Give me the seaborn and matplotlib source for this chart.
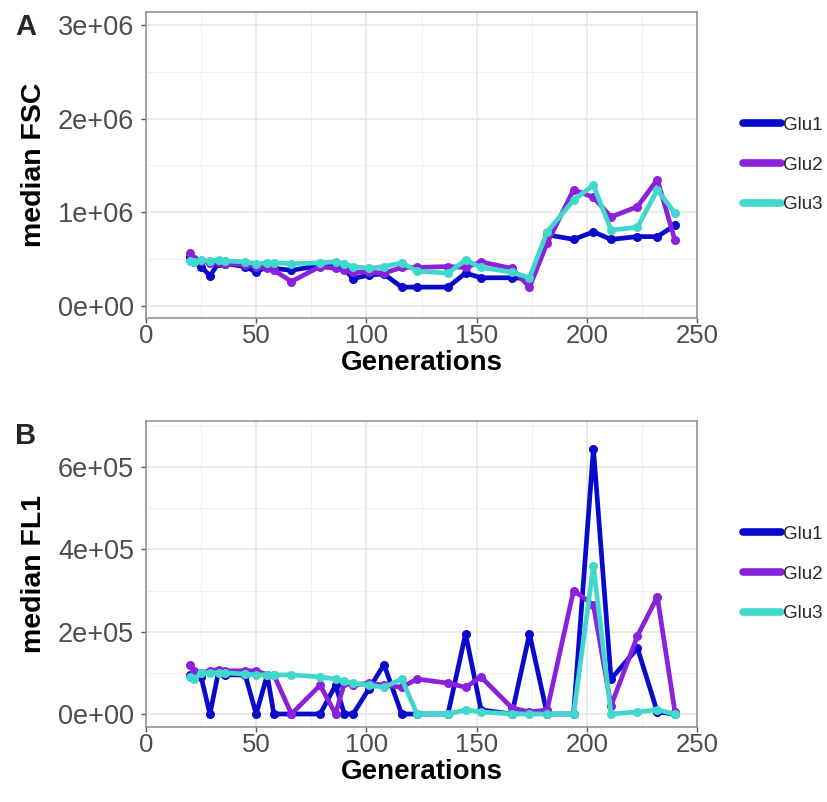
import numpy as np
import pandas as pd
import matplotlib
matplotlib.use("Agg")
import matplotlib.pyplot as plt
import seaborn as sns
from matplotlib.lines import Line2D
from matplotlib.ticker import MultipleLocator, FuncFormatter

generations = [20, 22, 25, 29, 33, 36, 45, 50, 55, 58, 66, 79, 86, 90, 94, 101,
               108, 116, 123, 137, 145, 152, 166, 174, 182, 194, 203, 211, 223, 232, 240]
samples = ["Glu1", "Glu2", "Glu3"]

fsc_glu1 = [520e3, 470e3, 420e3, 320e3, 460e3, 450e3, 420e3, 360e3, 420e3, 400e3, 380e3,
            430e3, 420e3, 390e3, 290e3, 330e3, 340e3, 200e3, 200e3, 200e3, 350e3, 300e3,
            300e3, 290e3, 760e3, 710e3, 790e3, 710e3, 740e3, 740e3, 860e3]
fsc_glu2 = [560e3, 500e3, 480e3, 460e3, 470e3, 450e3, 440e3, 420e3, 400e3, 380e3, 260e3,
            420e3, 400e3, 380e3, 360e3, 360e3, 350e3, 410e3, 410e3, 420e3, 410e3, 470e3,
            400e3, 200e3, 670e3, 1240e3, 1160e3, 950e3, 1060e3, 1350e3, 700e3]
fsc_glu3 = [480e3, 470e3, 490e3, 480e3, 490e3, 480e3, 470e3, 450e3, 460e3, 460e3, 450e3,
            460e3, 470e3, 450e3, 420e3, 400e3, 420e3, 460e3, 370e3, 350e3, 490e3, 410e3,
            360e3, 300e3, 790e3, 1130e3, 1290e3, 810e3, 840e3, 1240e3, 990e3]

fl1_glu1 = [95e3, 90e3, 90e3, 0, 105e3, 95e3, 95e3, 0, 95e3, 0, 0,
            0, 70e3, 0, 0, 60e3, 120e3, 0, 0, 0, 195e3, 10e3,
            0, 195e3, 0, 0, 645e3, 85e3, 160e3, 5e3, 0]
fl1_glu2 = [120e3, 105e3, 100e3, 105e3, 108e3, 105e3, 105e3, 105e3, 95e3, 95e3, 0,
            70e3, 0, 75e3, 70e3, 75e3, 70e3, 65e3, 85e3, 75e3, 65e3, 90e3,
            15e3, 5e3, 10e3, 300e3, 265e3, 20e3, 190e3, 285e3, 5e3]
fl1_glu3 = [90e3, 85e3, 100e3, 100e3, 100e3, 100e3, 97e3, 95e3, 95e3, 95e3, 95e3,
            90e3, 85e3, 80e3, 75e3, 70e3, 65e3, 85e3, 0, 0, 10e3, 5e3,
            0, 0, 0, 0, 360e3, 0, 5e3, 10e3, 0]

colors = {"Glu1": "#0A0ACD", "Glu2": "#8A22DC", "Glu3": "#40D8CC"}

rows = []
for s, fs, fl in zip(samples, [fsc_glu1, fsc_glu2, fsc_glu3], [fl1_glu1, fl1_glu2, fl1_glu3]):
    for g, a, b in zip(generations, fs, fl):
        rows.append({"Generations": g, "FSC": a, "FL1": b, "sample": s})
df = pd.DataFrame(rows)

sns.set_theme(style="white")
plt.rcParams["font.family"] = ["Liberation Sans", "DejaVu Sans"]

fig = plt.figure(figsize=(8.27, 8.02), dpi=100)
axA = fig.add_axes([146/827, 1-318/802, 551/827, 306/802])
axB = fig.add_axes([146/827, 1-727/802, 551/827, 306/802])


def sci(v, pos):
    if v == 0:
        return "0e+00"
    e = int(np.floor(np.log10(abs(v))))
    m = v / 10**e
    return f"{m:.0f}e+{e:02d}"


def style(ax, ylabel, ylim, ymaj):
    ax.set_xlim(0, 250)
    ax.set_ylim(*ylim)
    ax.xaxis.set_major_locator(MultipleLocator(50))
    ax.xaxis.set_minor_locator(MultipleLocator(25))
    ax.yaxis.set_major_locator(MultipleLocator(ymaj))
    ax.yaxis.set_minor_locator(MultipleLocator(ymaj/2))
    ax.yaxis.set_major_formatter(FuncFormatter(sci))
    ax.grid(which="major", color="#E6E6E6", linewidth=1.1)
    ax.grid(which="minor", color="#F0F0F0", linewidth=0.7)
    ax.set_axisbelow(True)
    for sp in ax.spines.values():
        sp.set_color("#8C8C8C")
        sp.set_linewidth(1.1)
    ax.tick_params(axis="both", which="major", direction="out", length=3.5, width=1,
                   color="#555555", labelcolor="#4D4D4D",
                   bottom=True, left=True)
    ax.tick_params(axis="y", pad=5, labelsize=19.5)
    ax.tick_params(axis="x", pad=1, labelsize=18.5)
    ax.tick_params(which="minor", length=0)
    ax.set_xlabel("Generations", fontsize=20, fontweight="bold", color="black")
    ax.xaxis.set_label_coords(0.5, -45/306)
    ax.xaxis.label.set_va("center")
    ax.set_ylabel(ylabel, fontsize=20.5, fontweight="bold", color="black", labelpad=8)


for ax, col, ylabel, ylim, ymaj in [
    (axA, "FSC", "median FSC", (-0.13e6, 3.14e6), 1e6),
    (axB, "FL1", "median FL1", (-0.316e5, 7.12e5), 2e5),
]:
    sns.lineplot(data=df, x="Generations", y=col, hue="sample", palette=colors,
                 hue_order=samples, ax=ax, linewidth=3.4, marker="o", markersize=6.5,
                 markeredgewidth=0, legend=False, estimator=None, sort=True)
    style(ax, ylabel, ylim, ymaj)
    handles = [Line2D([0], [0], color=colors[s], linewidth=5.5) for s in samples]
    ax.legend(handles, samples, loc="center left", bbox_to_anchor=(1.0835, 0.5),
              frameon=False, fontsize=13.5, handlelength=2.0, handletextpad=0.15,
              labelspacing=1.2, borderpad=0, borderaxespad=0)

fig.text(15/827, 1-27/802, "A", fontsize=21, fontweight="bold", va="center", ha="left")
fig.text(15/827, 1-436/802, "B", fontsize=21, fontweight="bold", va="center", ha="left")

fig.savefig("out.png", dpi=100)
